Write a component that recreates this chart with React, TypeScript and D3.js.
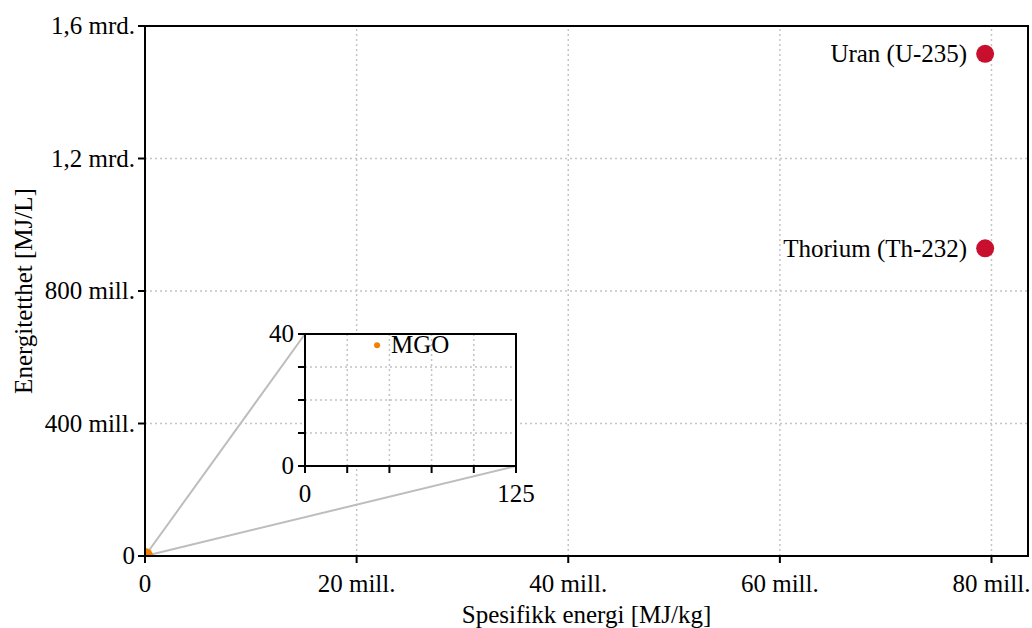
import React from "react";
import * as d3 from "d3";

const fuels = ["Uran (U-235)", "Thorium (Th-232)"];
const fuelSpecific = [79.4e6, 79.4e6];
const fuelDensity = [1.516e9, 0.929e9];

const insetNames = ["MGO"];
const insetSpecific = [42.7];
const insetDensity = [36.6];

const xTicks = [0, 20e6, 40e6, 60e6, 80e6];
const xTickLabels = ["0", "20 mill.", "40 mill.", "60 mill.", "80 mill."];
const yTicks = [0, 400e6, 800e6, 1.2e9, 1.6e9];
const yTickLabels = ["0", "400 mill.", "800 mill.", "1,2 mrd.", "1,6 mrd."];

const insetXTicks = [0, 25, 50, 75, 100, 125];
const insetYTicks = [0, 10, 20, 30, 40];

const W = 1032, H = 628;
const FONT = "'Liberation Serif', 'Times New Roman', serif";
const FS = 25;

export default function App() {
  const x = d3.scaleLinear().domain([0, 83.45e6]).range([145, 1028]);
  const y = d3.scaleLinear().domain([0, 1.6e9]).range([556, 26]);
  const ix = d3.scaleLinear().domain([0, 125]).range([305, 516]);
  const iy = d3.scaleLinear().domain([0, 40]).range([466, 334]);
  const [x0, x1] = x.range();
  const [y0, y1] = y.range();
  const [ix0, ix1] = ix.range();
  const [iy0, iy1] = iy.range();
  const grid = "#c4c4c4";
  const dash = "2 3";
  return (
    <svg width={W} height={H} style={{ position: "absolute", left: 0, top: 0, background: "#fff" }} fontFamily={FONT}>
      <defs>
        <clipPath id="plotclip">
          <rect x={x0} y={y1} width={x1 - x0} height={y0 - y1} />
        </clipPath>
      </defs>
      {xTicks.slice(1).map((t) => (
        <line key={"gx" + t} x1={x(t)} x2={x(t)} y1={y0} y2={y1} stroke={grid} strokeWidth={1.5} strokeDasharray={dash} />
      ))}
      {yTicks.slice(1).map((t) => (
        <line key={"gy" + t} x1={x0} x2={x1} y1={y(t)} y2={y(t)} stroke={grid} strokeWidth={1.5} strokeDasharray={dash} />
      ))}
      <line x1={x(0)} y1={y(0)} x2={ix0} y2={iy1} stroke="#bdbdbd" strokeWidth={2} />
      <line x1={x(0)} y1={y(0)} x2={ix1} y2={iy0} stroke="#bdbdbd" strokeWidth={2} />
      <g clipPath="url(#plotclip)">
        {insetNames.map((n, i) => (
          <circle key={n} cx={x(insetSpecific[i])} cy={y(insetDensity[i])} r={8} fill="#f28000" />
        ))}
      </g>
      {fuels.map((n, i) => (
        <g key={n}>
          <circle cx={x(fuelSpecific[i])} cy={y(fuelDensity[i])} r={9} fill="#c8102e" />
          <text x={x(fuelSpecific[i]) - 18} y={y(fuelDensity[i])} dy="0.33em" textAnchor="end" fontSize={FS} fill="#000">{n}</text>
        </g>
      ))}
      <rect x={x0} y={y1} width={x1 - x0} height={y0 - y1} fill="none" stroke="#000" strokeWidth={2} />
      {xTicks.map((t, i) => (
        <g key={"tx" + t}>
          <line x1={x(t)} x2={x(t)} y1={y0} y2={y0 + 7} stroke="#000" strokeWidth={2} />
          <text x={x(t)} y={592} textAnchor="middle" fontSize={FS}>{xTickLabels[i]}</text>
        </g>
      ))}
      {yTicks.map((t, i) => (
        <g key={"ty" + t}>
          <line x1={x0 - 7} x2={x0} y1={y(t)} y2={y(t)} stroke="#000" strokeWidth={2} />
          <text x={x0 - 10} y={y(t)} dy="0.33em" textAnchor="end" fontSize={FS}>{yTickLabels[i]}</text>
        </g>
      ))}
      <text x={(x0 + x1) / 2} y={623} textAnchor="middle" fontSize={FS}>Spesifikk energi [MJ/kg]</text>
      <text transform={`translate(32,${(y0 + y1) / 2}) rotate(-90)`} textAnchor="middle" fontSize={FS}>Energitetthet [MJ/L]</text>
      <rect x={ix0} y={iy1} width={ix1 - ix0} height={iy0 - iy1} fill="#fff" />
      {insetXTicks.slice(1, -1).map((t) => (
        <line key={"igx" + t} x1={ix(t)} x2={ix(t)} y1={iy0} y2={iy1} stroke={grid} strokeWidth={1.5} strokeDasharray={dash} />
      ))}
      {insetYTicks.slice(1, -1).map((t) => (
        <line key={"igy" + t} x1={ix0} x2={ix1} y1={iy(t)} y2={iy(t)} stroke={grid} strokeWidth={1.5} strokeDasharray={dash} />
      ))}
      {insetNames.map((n, i) => (
        <g key={"i" + n}>
          <circle cx={ix(insetSpecific[i])} cy={iy(insetDensity[i])} r={3} fill="#f28000" />
          <text x={ix(insetSpecific[i]) + 14} y={iy(insetDensity[i])} dy="0.33em" fontSize={FS}>{n}</text>
        </g>
      ))}
      <rect x={ix0} y={iy1} width={ix1 - ix0} height={iy0 - iy1} fill="none" stroke="#000" strokeWidth={2} />
      {insetXTicks.map((t) => (
        <line key={"itx" + t} x1={ix(t)} x2={ix(t)} y1={iy0} y2={iy0 + 7} stroke="#000" strokeWidth={2} />
      ))}
      {insetYTicks.map((t) => (
        <line key={"ity" + t} x1={ix0 - 7} x2={ix0} y1={iy(t)} y2={iy(t)} stroke="#000" strokeWidth={2} />
      ))}
      {[0, 125].map((t) => (
        <text key={"itl" + t} x={ix(t)} y={502} textAnchor="middle" fontSize={FS}>{t}</text>
      ))}
      {[0, 40].map((t) => (
        <text key={"iyl" + t} x={ix0 - 11} y={iy(t)} dy="0.33em" textAnchor="end" fontSize={FS}>{t}</text>
      ))}
    </svg>
  );
}
